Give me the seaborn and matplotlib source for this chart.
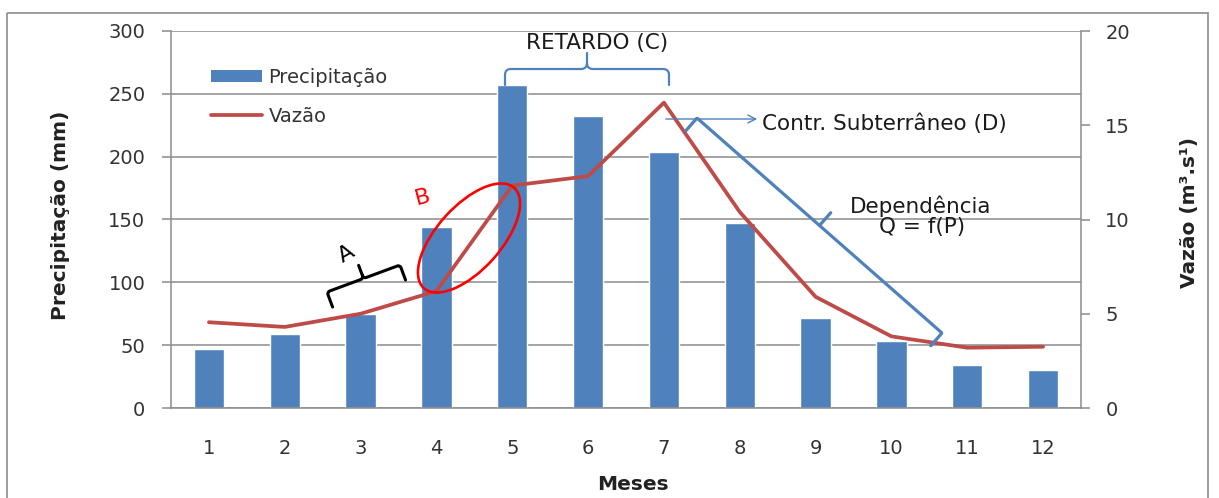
import numpy as np
import pandas as pd
import matplotlib.pyplot as plt
import seaborn as sns
from matplotlib.path import Path
from matplotlib.patches import PathPatch, Ellipse, Rectangle, Patch
from matplotlib.lines import Line2D

# dados
meses = [1, 2, 3, 4, 5, 6, 7, 8, 9, 10, 11, 12]
precipitacao = [47, 59, 75, 144, 257, 232, 204, 147, 72, 53, 34, 30]
vazao = [4.55, 4.3, 5.0, 6.2, 11.8, 12.3, 16.2, 10.4, 5.9, 3.8, 3.2, 3.25]
ticks_prec = [0, 50, 100, 150, 200, 250, 300]
ticks_vazao = [0, 5, 10, 15, 20]

df = pd.DataFrame({'Meses': meses, 'Precipitação': precipitacao, 'Vazão': vazao})

AZUL = '#4F81BD'
VERMELHO = '#BE4B48'
CINZA = '#8C8C8C'
TEXTO = '#333333'

sns.set_theme(style='white')
plt.rcParams['font.family'] = ['DejaVu Sans']

W, H = 1219, 498
fig = plt.figure(figsize=(W / 100, H / 100), dpi=100)
ax = fig.add_axes([171 / W, 1 - 408 / H, (1081 - 171) / W, (408 - 31) / H])
ax2 = ax.twinx()

sns.barplot(data=df, x='Meses', y='Precipitação', native_scale=True, width=0.4,
            color=AZUL, saturation=1, ax=ax)
sns.lineplot(data=df, x='Meses', y='Vazão', color=VERMELHO, lw=2.7, ax=ax2)

ax.set_xlim(0.5, 12.5)
ax.set_ylim(0, 300)
ax.set_yticks(ticks_prec)
ax.set_xticks(meses)
ax2.set_ylim(0, 20)
ax2.set_yticks(ticks_vazao)

ax.set_axisbelow(True)
ax.yaxis.grid(True, color=CINZA, lw=1.1)
for s in ['top', 'right']:
    ax.spines[s].set_visible(False)
for s in ['left', 'bottom']:
    ax.spines[s].set_color(CINZA)
    ax.spines[s].set_linewidth(1.1)
for s in ['top', 'left', 'bottom']:
    ax2.spines[s].set_visible(False)
ax2.spines['right'].set_color(CINZA)
ax2.spines['right'].set_linewidth(1.1)

ax.tick_params(axis='y', left=True, length=6.5, width=1.1, color=CINZA, pad=12,
               labelsize=14, labelcolor=TEXTO)
ax.tick_params(axis='x', bottom=False, length=0, pad=22, labelsize=14, labelcolor=TEXTO)
ax2.tick_params(axis='y', right=True, length=6.5, width=1.1, color=CINZA, pad=11,
                labelsize=14, labelcolor=TEXTO)

ax.set_xlabel('Meses', fontsize=14.5, fontweight='bold', color='#222222')
ax.set_ylabel('Precipitação (mm)', fontsize=14.5, fontweight='bold', color='#222222')
ax2.set_ylabel('Vazão (m³.s¹)', fontsize=14.5, fontweight='bold', color='#222222')
ax.xaxis.set_label_coords((633 - 171) / 910, (408 - 475) / 377)
ax.yaxis.set_label_coords((70 - 171) / 910, (408 - 215) / 377)
ax2.yaxis.set_label_coords((1180 - 171) / 910, (408 - 212) / 377)

handles = [Patch(facecolor=AZUL, edgecolor='none'),
           Line2D([0], [0], color=VERMELHO, lw=2.7)]
ax2.legend(handles, ['Precipitação', 'Vazão'], loc='upper left',
           bbox_to_anchor=(211 / W, 1 - 68 / H), bbox_transform=fig.transFigure,
           frameon=False, fontsize=14, handlelength=2.6, handleheight=0.6,
           labelspacing=1.02, handletextpad=0.35, borderpad=0, borderaxespad=0,
           labelcolor=TEXTO)

# camada de anotacoes em pixels
ov = fig.add_axes([0, 0, 1, 1])
ov.set_xlim(0, W)
ov.set_ylim(H, 0)
ov.axis('off')
ov.patch.set_visible(False)


def chave(p0, p1, perna, ponta, r=4, **kw):
    p0 = np.array(p0, float)
    p1 = np.array(p1, float)
    L = np.hypot(*(p1 - p0))
    e = (p1 - p0) / L
    n = np.array([e[1], -e[0]])
    uv = [(0, -perna), (0, -r), (0, 0), (r, 0), (L / 2 - r, 0), (L / 2, 0), (L / 2, r),
          (L / 2, ponta), (L / 2, r), (L / 2, 0), (L / 2 + r, 0), (L - r, 0), (L, 0),
          (L, -r), (L, -perna)]
    codes = [Path.MOVETO, Path.LINETO, Path.CURVE3, Path.CURVE3, Path.LINETO,
             Path.CURVE3, Path.CURVE3, Path.LINETO, Path.MOVETO, Path.CURVE3,
             Path.CURVE3, Path.LINETO, Path.CURVE3, Path.CURVE3, Path.LINETO]
    verts = [p0 + u * e + v * n for u, v in uv]
    ov.add_patch(PathPatch(Path(verts, codes), fill=False, capstyle='round',
                           joinstyle='round', **kw))


ov.add_patch(Rectangle((7, 13), 1201, 520, fill=False, ec=CINZA, lw=1.2))

# RETARDO (C)
chave((505, 69), (669, 69), 16, 16, r=6, ec=AZUL, lw=1.6)
ov.text(597, 43, 'RETARDO (C)', fontsize=15.5, ha='center', va='center', color='#1a1a1a')

# Contribuicao subterranea
ov.annotate('', xy=(760, 119), xytext=(663, 119),
            arrowprops=dict(arrowstyle='->', color=AZUL, lw=1, mutation_scale=14))
ov.text(762, 124, 'Contr. Subterrâneo (D)', fontsize=15.5, ha='left', va='center',
        color='#1a1a1a')

# Dependencia
chave((697, 118), (942, 333), 17, 17, r=1, ec=AZUL, lw=2.3)
ov.text(921, 206, 'Dependência', fontsize=15.5, ha='center', va='center', color='#1a1a1a')
ov.text(922, 227, 'Q = f(P)', fontsize=15.5, ha='center', va='center', color='#1a1a1a')

# A
chave((327, 292), (400, 265), 16, 14, r=3, ec='black', lw=2.2)
ov.text(346, 254, 'A', fontsize=16, rotation=30, ha='center', va='center', color='black')

# B
ov.add_patch(Ellipse((469, 238), width=135, height=64, angle=-48, fill=False,
                     ec='red', lw=1.9))
ov.text(423, 197, 'B', fontsize=16, rotation=15, ha='center', va='center', color='red')

fig.savefig('out.png', dpi=100, facecolor='white')
